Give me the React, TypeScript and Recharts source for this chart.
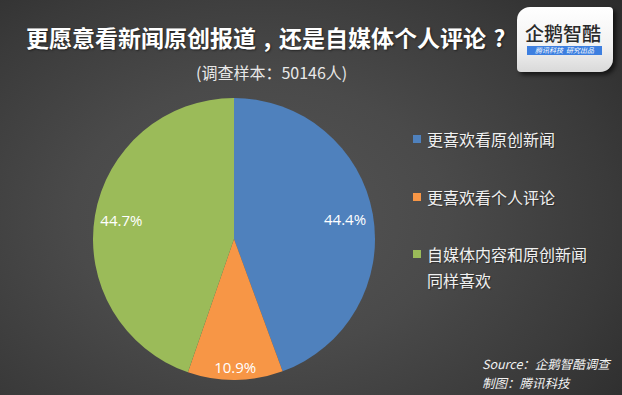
import React from 'react';
import { PieChart, Pie, Cell, Legend } from 'recharts';

const categories = ['更喜欢看原创新闻', '更喜欢看个人评论', '自媒体内容和原创新闻同样喜欢'];
const shares = [44.4, 10.9, 44.7];
const colors = ['#4f81bd', '#f79646', '#9bbb59'];
const titlePart1 = '更愿意看新闻原创报道';
const titlePart2 = '还是自媒体个人评论';
const subtitleText = '(调查样本：50146人)';
const sourceText = 'Source：企鹅智酷调查';
const creditText = '制图：腾讯科技';

const data = categories.map((name, i) => ({ name, value: shares[i] }));

const CJK = '"Noto Sans CJK SC", "Noto Sans", sans-serif';
const RAD = Math.PI / 180;
const labelRadiusFactor = [0.8, 0.91, 0.81];

const renderLabel = (props: any) => {
  const { cx, cy, midAngle, outerRadius, index, value } = props;
  const r = outerRadius * labelRadiusFactor[index];
  const x = cx + r * Math.cos(-midAngle * RAD);
  const y = cy + r * Math.sin(-midAngle * RAD);
  return (
    <text
      x={x}
      y={y}
      fill="#ffffff"
      textAnchor="middle"
      dominantBaseline="central"
      style={{ fontFamily: '"Open Sans", sans-serif', fontSize: 15 }}
    >
      {Number(value).toFixed(1)}%
    </text>
  );
};

const renderLegend = (props: any) => {
  const payload = [...(props.payload || [])].sort(
    (a: any, b: any) => categories.indexOf(a.value) - categories.indexOf(b.value)
  );
  return (
    <div style={{ width: 180 }}>
      {payload.map((entry: any, i: number) => {
        const ci = categories.indexOf(entry.value);
        return (
          <div
            key={entry.value}
            style={{
              display: 'flex',
              alignItems: 'flex-start',
              marginBottom: i === 0 ? 32 : 31,
            }}
          >
            <div
              style={{
                width: 8,
                height: 8,
                marginTop: 9,
                marginRight: 6,
                background: colors[ci],
                flexShrink: 0,
              }}
            />
            <div
              style={{
                width: 164,
                fontFamily: CJK,
                fontSize: 16,
                lineHeight: '26px',
                color: '#f0f0f0',
                textShadow: '1px 1px 1px rgba(0,0,0,0.35)',
              }}
            >
              {entry.value}
            </div>
          </div>
        );
      })}
    </div>
  );
};

const punct: React.CSSProperties = {
  display: 'inline-block',
  width: 23,
  textAlign: 'center',
};

export default function App() {
  return (
    <div
      style={{
        position: 'absolute',
        left: 0,
        top: 0,
        width: 622,
        height: 395,
        overflow: 'hidden',
        background:
          'radial-gradient(ellipse 75% 85% at 42% 55%, #555555 0%, #4a4a4a 40%, #3a3a3a 75%, #2c2c2c 100%)',
      }}
    >
      <div
        style={{
          position: 'absolute',
          left: 26,
          top: 22,
          fontFamily: CJK,
          fontWeight: 700,
          fontSize: 23,
          lineHeight: '30px',
          color: '#ffffff',
          whiteSpace: 'nowrap',
          textShadow: '1px 1px 2px rgba(0,0,0,0.5)',
        }}
      >
        {titlePart1}
        <span style={punct}>,</span>
        {titlePart2}
        <span style={{ ...punct, width: 27 }}>?</span>
      </div>
      <div
        style={{
          position: 'absolute',
          left: 196,
          top: 61,
          fontFamily: CJK,
          fontSize: 16,
          lineHeight: '22px',
          color: '#e8e8e8',
          whiteSpace: 'nowrap',
        }}
      >
        {subtitleText}
      </div>

      <div
        style={{
          position: 'absolute',
          left: 517,
          top: 7,
          width: 96,
          height: 65,
          borderRadius: '13px 4px 13px 4px',
          background: 'linear-gradient(180deg, #ffffff 0%, #f2f2f2 60%, #d9d9d9 100%)',
          boxShadow: '3px 3px 4px rgba(0,0,0,0.6)',
        }}
      >
        <div
          style={{
            position: 'absolute',
            left: 8,
            top: 14,
            fontFamily: CJK,
            fontSize: 19,
            fontWeight: 500,
            lineHeight: '24px',
            color: '#2a2a2a',
            whiteSpace: 'nowrap',
          }}
        >
          企鹅智酷
        </div>
        <div
          style={{
            position: 'absolute',
            left: 10,
            top: 39,
            width: 75,
            height: 9,
            background: '#3d7fe0',
            color: '#ffffff',
            fontFamily: CJK,
            fontSize: 7,
            lineHeight: '9px',
            fontStyle: 'italic',
            textAlign: 'center',
            whiteSpace: 'nowrap',
          }}
        >
          腾讯科技&nbsp;&nbsp;研究出品
        </div>
      </div>

      <div style={{ position: 'absolute', left: 0, top: 0 }}>
        <PieChart width={622} height={395} margin={{ top: 0, right: 0, bottom: 0, left: 0 }}>
          <Pie
            data={data}
            dataKey="value"
            nameKey="name"
            cx={234}
            cy={239}
            outerRadius={141}
            startAngle={90}
            endAngle={-270}
            stroke="none"
            label={renderLabel}
            labelLine={false}
            isAnimationActive={false}
          >
            {data.map((d, i) => (
              <Cell key={d.name} fill={colors[i]} />
            ))}
          </Pie>
          <Legend
            layout="vertical"
            align="right"
            verticalAlign="top"
            content={renderLegend}
            wrapperStyle={{ position: 'absolute', left: 413, top: 126, width: 180 }}
          />
        </PieChart>
      </div>

      <div
        style={{
          position: 'absolute',
          left: 482,
          top: 354,
          fontFamily: CJK,
          fontSize: 12.5,
          lineHeight: '20px',
          fontStyle: 'italic',
          color: '#f2f2f2',
          whiteSpace: 'nowrap',
        }}
      >
        {sourceText}
      </div>
      <div
        style={{
          position: 'absolute',
          left: 482,
          top: 373,
          fontFamily: CJK,
          fontSize: 12.5,
          lineHeight: '20px',
          fontStyle: 'italic',
          color: '#f2f2f2',
          whiteSpace: 'nowrap',
        }}
      >
        {creditText}
      </div>
    </div>
  );
}
